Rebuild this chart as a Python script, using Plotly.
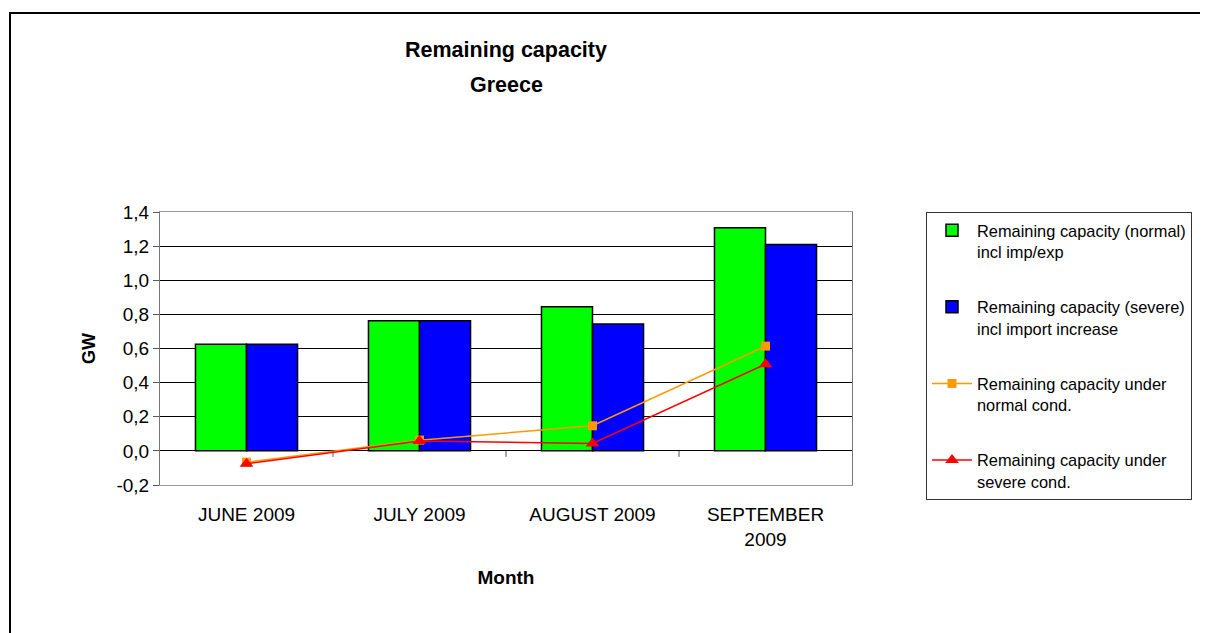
import plotly.graph_objects as go

months = ["JUNE 2009", "JULY 2009", "AUGUST 2009", "SEPTEMBER<br>2009"]
normal_incl = [0.625, 0.762, 0.844, 1.307]
severe_incl = [0.625, 0.762, 0.743, 1.210]
normal_cond = [-0.066, 0.063, 0.147, 0.614]
severe_cond = [-0.075, 0.058, 0.043, 0.508]
y_ticks = [-0.2, 0.0, 0.2, 0.4, 0.6, 0.8, 1.0, 1.2, 1.4]
y_tick_text = ["-0,2", "0,0", "0,2", "0,4", "0,6", "0,8", "1,0", "1,2", "1,4"]

# page body has an 8px margin, so everything is laid out 8px up/left
W, H = 1208, 633
L, R, T, B = 152, 364, 204, 156
pw, ph = W - L - R, H - T - B

fig = go.Figure()

fig.add_trace(go.Bar(
    x=months, y=normal_incl,
    name="Remaining capacity (normal)<br>incl imp/exp",
    marker=dict(color="#00ff00", line=dict(color="black", width=1.5)),
    legendgroup="a",
))
fig.add_trace(go.Bar(
    x=months, y=severe_incl,
    name="Remaining capacity (severe)<br>incl import increase",
    marker=dict(color="#0000ff", line=dict(color="black", width=1.5)),
    legendgroup="b",
))
fig.add_trace(go.Scatter(
    x=months, y=normal_cond, mode="lines+markers",
    name="Remaining capacity under<br>normal cond.",
    line=dict(color="#ff9900", width=1.5),
    marker=dict(symbol="square", size=9, color="#ff9900"),
    legendgroup="c",
))
fig.add_trace(go.Scatter(
    x=months, y=severe_cond, mode="lines+markers",
    name="Remaining capacity under<br>severe cond.",
    line=dict(color="#ff0000", width=1.5),
    marker=dict(symbol="triangle-up", size=12, color="#ff0000"),
    legendgroup="d",
))

# small tick marks between categories hanging below the zero line
for xb in [0.5, 1.5, 2.5]:
    fig.add_shape(type="line", x0=xb, x1=xb, y0=0, y1=-0.035,
                  xref="x", yref="y", line=dict(color="#555", width=1))

# outer chart frame
fig.add_shape(
    type="rect", xref="paper", yref="paper",
    x0=(2 - L) / pw, x1=(W + 10 - L) / pw,
    y0=-(B + 10) / ph, y1=(H - B - 5) / ph,
    line=dict(color="black", width=2), fillcolor="rgba(0,0,0,0)",
    layer="below",
)

# two-line title
for txt, yc in [("Remaining capacity", 42), ("Greece", 77)]:
    fig.add_annotation(
        text="<b>%s</b>" % txt, showarrow=False,
        xref="paper", x=0.5, xanchor="center",
        yref="paper", y=1 + (T - yc) / ph, yanchor="middle",
        font=dict(size=21.5),
    )

fig.update_layout(
    width=W, height=H,
    margin=dict(l=L, r=R, t=T, b=B),
    paper_bgcolor="white", plot_bgcolor="white",
    font=dict(family="Arial, Liberation Sans, sans-serif", color="black"),
    barmode="group", bargap=0.41, bargroupgap=0,
    legend=dict(
        x=(918 - L) / pw, y=1, xanchor="left", yanchor="top",
        bordercolor="#333", borderwidth=1, bgcolor="white",
        font=dict(size=16.4),
        tracegroupgap=31, itemwidth=40, valign="top",
        maxheight=400,
    ),
)

fig.update_yaxes(
    range=[-0.2, 1.4], tickvals=y_ticks, ticktext=y_tick_text,
    showgrid=True, gridcolor="black", gridwidth=1,
    zeroline=True, zerolinecolor="black", zerolinewidth=1,
    showline=True, linecolor="#777", linewidth=1, mirror=True,
    ticks="outside", ticklen=6, tickcolor="#555",
    tickfont=dict(size=19),
    title=dict(text="<b>GW</b>", font=dict(size=18), standoff=16),
)
fig.update_xaxes(
    showgrid=False, showline=True, linecolor="#999", linewidth=1, mirror=True,
    ticks="", tickfont=dict(size=19), ticklabelstandoff=12,
    title=dict(text="<b>Month</b>", font=dict(size=19), standoff=22),
)

fig.write_html("out.html")
